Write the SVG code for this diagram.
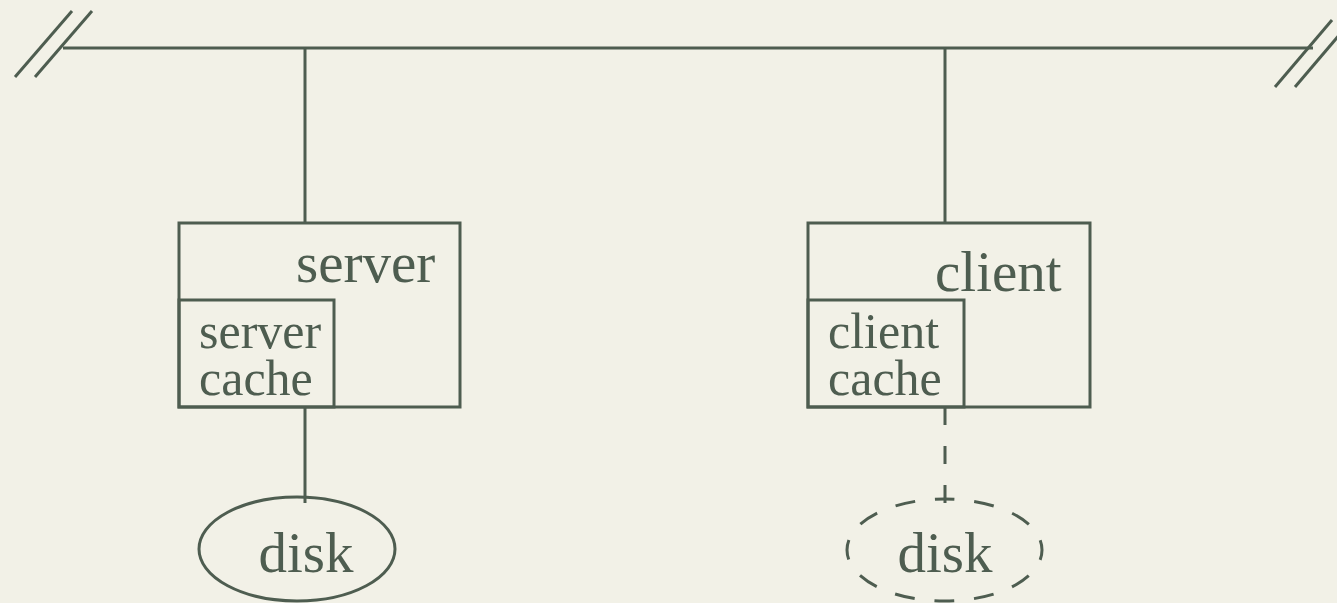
<svg xmlns="http://www.w3.org/2000/svg" width="1337" height="603" viewBox="0 0 1337 603">
  <style>
    .ln { stroke: #4e5d50; stroke-width: 3; fill: none; }
    .dash { stroke-dasharray: 18 21; }
    .edash { stroke-dasharray: 20 19.8; stroke-dashoffset: 10; }
    .box { stroke: #4e5d50; stroke-width: 3; fill: none; }
    .lbl { font-family: "Liberation Serif", "Times New Roman", serif; fill: #4e5d50; }
    .big { font-size: 57px; }
    .small { font-size: 50px; }
  </style>
  <rect width="1337" height="603" fill="#f2f1e7"/>

  <!-- network bus with break marks at both ends -->
  <g id="bus">
    <line class="ln" x1="63" y1="48" x2="1313" y2="48"/>
    <line class="ln" x1="15" y1="77" x2="72" y2="11"/>
    <line class="ln" x1="35" y1="77" x2="92" y2="11"/>
    <line class="ln" x1="1275" y1="87" x2="1332" y2="20"/>
    <line class="ln" x1="1295" y1="87" x2="1352" y2="20"/>
  </g>

  <g id="connectors">
    <line class="ln" x1="305" y1="48" x2="305" y2="223"/>
    <line class="ln" x1="945" y1="48" x2="945" y2="223"/>
    <line class="ln" x1="305" y1="407" x2="305" y2="503"/>
    <line class="ln dash" x1="945" y1="407" x2="945" y2="503"/>
  </g>

  <g id="server">
    <rect class="box" x="179" y="223" width="281" height="184"/>
    <text class="lbl big" x="296" y="282">server</text>
  </g>
  <g id="server-cache">
    <rect class="box" x="179" y="300" width="155" height="107"/>
    <text class="lbl small"><tspan x="199" y="348">server</tspan><tspan x="199" y="395">cache</tspan></text>
  </g>

  <g id="client">
    <rect class="box" x="808" y="223" width="282" height="184"/>
    <text class="lbl big" x="935" y="291">client</text>
  </g>
  <g id="client-cache">
    <rect class="box" x="808" y="300" width="156" height="107"/>
    <text class="lbl small"><tspan x="828" y="348">client</tspan><tspan x="828" y="395">cache</tspan></text>
  </g>

  <g id="server-disk">
    <ellipse class="ln" cx="297" cy="549" rx="98" ry="52" stroke-width="2.5"/>
    <text class="lbl big" x="306" y="572" text-anchor="middle">disk</text>
  </g>

  <g id="client-disk">
    <path class="ln edash" stroke-width="2.5" d="M944.5 499 A97.5 51 0 1 1 944.5 601 A97.5 51 0 1 1 944.5 499 Z"/>
    <text class="lbl big" x="945" y="572" text-anchor="middle">disk</text>
  </g>
</svg>
